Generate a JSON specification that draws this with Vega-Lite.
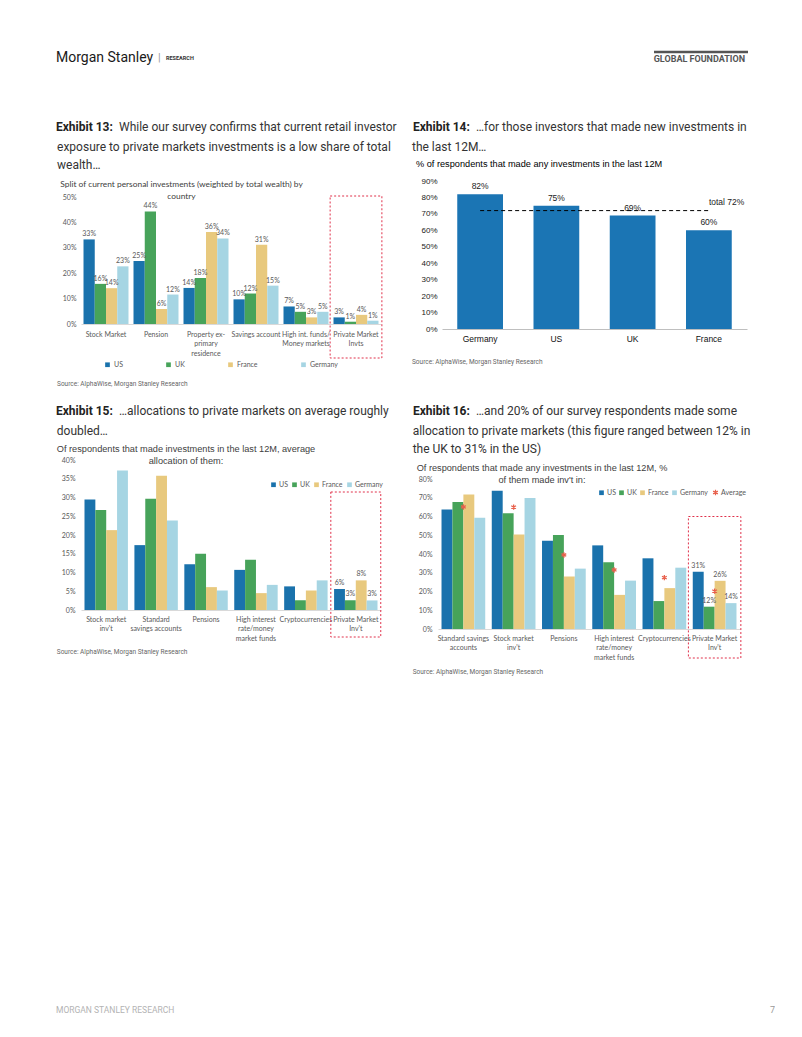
{
  "$schema": "https://vega.github.io/schema/vega-lite/v6.json",
  "background": "white",
  "padding": {"left": 56, "top": 48, "right": 0, "bottom": 0},
  "spacing": 15,
  "config": {
    "view": {"stroke": null},
    "font": "Lato",
    "title": {"fontWeight": "normal"},
    "axis": {"ticks": false, "grid": false, "title": null, "labelFont": "Lato", "labelFontSize": 7, "labelColor": "#595959", "domainColor": "#d9d9d9", "labelOverlap": false},
    "axisY": {"domain": false},
    "axisX": {"labelAngle": 0},
    "legend": {"labelFont": "Lato", "labelFontSize": 7, "labelColor": "#595959", "symbolType": "square", "padding": 0, "labelOffset": 3}
  },
  "resolve": {"scale": {"color": "independent", "shape": "independent", "x": "independent", "y": "independent", "xOffset": "independent"}, "legend": {"color": "independent", "shape": "independent"}},
  "vconcat": [
    {
      "spacing": 0,
      "hconcat": [
        {
          "width": 571, "height": 58,
          "layer": [
            {"data": {"values": [{"t": "Morgan Stanley"}]}, "mark": {"type": "text", "align": "left", "baseline": "middle", "font": "Roboto", "fontSize": 14, "color": "#1a1a1a", "dx": -25}, "encoding": {"x": {"value": 0}, "y": {"value": 10}, "text": {"field": "t"}}},
            {"data": {"values": [{"t": "|"}]}, "mark": {"type": "text", "align": "left", "baseline": "middle", "font": "Roboto", "fontSize": 11, "color": "#999999", "dx": 77}, "encoding": {"x": {"value": 0}, "y": {"value": 10}, "text": {"field": "t"}}},
            {"data": {"values": [{"t": "RESEARCH"}]}, "mark": {"type": "text", "align": "left", "baseline": "middle", "font": "Roboto", "fontSize": 5.5, "fontWeight": "bold", "color": "#333333", "dx": 85}, "encoding": {"x": {"value": 0}, "y": {"value": 10}, "text": {"field": "t"}}}
          ]
        },
        {
          "width": 94, "height": 58,
          "layer": [
            {"data": {"values": [{"t": "rule"}]}, "mark": {"type": "rule", "color": "#555555", "strokeWidth": 2.5}, "encoding": {"x": {"value": 0}, "x2": {"value": "width"}, "y": {"value": 4}}},
            {"data": {"values": [{"t": "GLOBAL FOUNDATION"}]}, "mark": {"type": "text", "align": "right", "baseline": "middle", "font": "Roboto", "fontSize": 9, "fontWeight": "bold", "color": "#555555", "dx": -3}, "encoding": {"x": {"value": "width"}, "y": {"value": 11}, "text": {"field": "t"}}}
          ]
        }
      ]
    },
    {
      "spacing": 17,
      "resolve": {"scale": {"color": "independent", "shape": "independent", "x": "independent", "y": "independent", "xOffset": "independent"}, "legend": {"color": "independent", "shape": "independent"}},
      "vconcat": [
        {
          "spacing": 14,
          "align": "none",
          "resolve": {"scale": {"color": "independent", "shape": "independent", "x": "independent", "y": "independent", "xOffset": "independent"}, "legend": {"color": "independent", "shape": "independent"}},
          "hconcat": [
            {
              "spacing": 7,
              "resolve": {"scale": {"color": "independent", "x": "independent", "y": "independent", "xOffset": "independent"}, "legend": {"color": "independent"}},
              "vconcat": [
                {
                  "width": 1, "height": 12,
                  "layer": [
                    {"data": {"values": [{"t": "Exhibit 13:"}]}, "mark": {"type": "text", "align": "left", "baseline": "middle", "font": "Roboto", "fontSize": 12, "fontWeight": "bold", "color": "#222222", "dx": -25}, "encoding": {"x": {"value": 0}, "y": {"value": 6}, "text": {"field": "t"}}},
                    {"data": {"values": [{"t": "While our survey confirms that current retail investor"}]}, "mark": {"type": "text", "align": "left", "baseline": "middle", "font": "Roboto", "fontSize": 12, "color": "#333333", "dx": 38}, "encoding": {"x": {"value": 0}, "y": {"value": 6}, "text": {"field": "t"}}}
                  ]
                },
                {
                  "title": {"text": ["exposure to private markets investments is a low share of total", "wealth…"], "anchor": "start", "frame": "bounds", "font": "Roboto", "fontSize": 12, "color": "#333333", "lineHeight": 18, "offset": 8, "dx": 0},
                  "resolve": {"scale": {"color": "independent"}, "legend": {"color": "independent"}},
                  "vconcat": [
                    {
                      "title": {"text": "Source: AlphaWise, Morgan Stanley Research", "orient": "bottom", "anchor": "start", "frame": "bounds", "font": "Roboto", "fontSize": 6.5, "color": "#666666", "offset": 13, "dx": -3},
                      "resolve": {"scale": {"color": "independent"}, "legend": {"color": "independent"}},
                      "vconcat": [
                        {
                          "width": 300, "height": 127,
                          "title": {"text": ["Split of current personal investments (weighted by total wealth) by", "country"], "font": "Lato", "fontSize": 8.4, "color": "#404040", "anchor": "middle", "dx": -49.5, "offset": -7, "lineHeight": 12},
                          "data": {"values": [
                            {"category": "Stock Market", "country": "US", "value": 0.333},
                            {"category": "Stock Market", "country": "UK", "value": 0.158},
                            {"category": "Stock Market", "country": "France", "value": 0.141},
                            {"category": "Stock Market", "country": "Germany", "value": 0.227},
                            {"category": "Pension", "country": "US", "value": 0.248},
                            {"category": "Pension", "country": "UK", "value": 0.443},
                            {"category": "Pension", "country": "France", "value": 0.059},
                            {"category": "Pension", "country": "Germany", "value": 0.116},
                            {"category": "Property ex-primary residence", "country": "US", "value": 0.142},
                            {"category": "Property ex-primary residence", "country": "UK", "value": 0.181},
                            {"category": "Property ex-primary residence", "country": "France", "value": 0.362},
                            {"category": "Property ex-primary residence", "country": "Germany", "value": 0.337},
                            {"category": "Savings account", "country": "US", "value": 0.097},
                            {"category": "Savings account", "country": "UK", "value": 0.12},
                            {"category": "Savings account", "country": "France", "value": 0.312},
                            {"category": "Savings account", "country": "Germany", "value": 0.151},
                            {"category": "High int. funds/Money markets", "country": "US", "value": 0.069},
                            {"category": "High int. funds/Money markets", "country": "UK", "value": 0.048},
                            {"category": "High int. funds/Money markets", "country": "France", "value": 0.026},
                            {"category": "High int. funds/Money markets", "country": "Germany", "value": 0.048},
                            {"category": "Private Market Invts", "country": "US", "value": 0.026},
                            {"category": "Private Market Invts", "country": "UK", "value": 0.009},
                            {"category": "Private Market Invts", "country": "France", "value": 0.036},
                            {"category": "Private Market Invts", "country": "Germany", "value": 0.013}
                          ]},
                          "encoding": {
                            "x": {"field": "category", "type": "nominal", "scale": {"domain": ["Stock Market", "Pension", "Property ex-primary residence", "Savings account", "High int. funds/Money markets", "Private Market Invts"], "paddingInner": 0.1, "paddingOuter": 0.05},
                              "axis": {"labelPadding": 6, "labelLineHeight": 9.5, "labelExpr": "datum.value == 'Property ex-primary residence' ? ['Property ex-', 'primary', 'residence'] : datum.value == 'High int. funds/Money markets' ? ['High int. funds/', 'Money markets'] : datum.value == 'Private Market Invts' ? ['Private Market', 'Invts'] : datum.value"}},
                            "y": {"field": "value", "type": "quantitative", "scale": {"domain": [0, 0.5]}, "axis": {"format": ".0%", "values": [0, 0.1, 0.2, 0.3, 0.4, 0.5], "labelPadding": 5, "labelOverlap": false}}
                          },
                          "layer": [
                            {
                              "mark": {"type": "bar"},
                              "encoding": {
                                "xOffset": {"field": "country", "type": "nominal", "scale": {"domain": ["US", "UK", "France", "Germany"], "paddingInner": 0}},
                                "color": {"field": "country", "type": "nominal", "scale": {"domain": ["US", "UK", "France", "Germany"], "range": ["#1a72ac", "#47a35a", "#e8c97e", "#a6d5e3"]},
                                  "legend": {"title": null, "orient": "none", "direction": "horizontal", "legendX": 23, "legendY": 164, "symbolSize": 22, "columnPadding": 42}}
                              }
                            },
                            {
                              "mark": {"type": "text", "dy": -5, "fontSize": 7, "color": "#595959", "font": "Lato"},
                              "encoding": {
                                "xOffset": {"field": "country", "type": "nominal"},
                                "text": {"field": "value", "type": "quantitative", "format": ".0%"}
                              }
                            },
                            {
                              "data": {"values": [{"category": "Private Market Invts"}]},
                              "mark": {"type": "bar", "width": {"band": 1.15}, "fill": "transparent", "stroke": "#e0304a", "strokeDash": [2, 2], "strokeWidth": 1, "clip": false, "yOffset": -1, "y2Offset": 34},
                              "encoding": {"y": {"value": 0}, "y2": {"value": "height"}}
                            }
                          ]
                        }
                      ]
                    }
                  ]
                }
              ]
            },
            {
              "spacing": 7,
              "resolve": {"scale": {"color": "independent", "x": "independent", "y": "independent"}, "legend": {"color": "independent"}},
              "vconcat": [
                {
                  "width": 1, "height": 12,
                  "layer": [
                    {"data": {"values": [{"t": "Exhibit 14:"}]}, "mark": {"type": "text", "align": "left", "baseline": "middle", "font": "Roboto", "fontSize": 12, "fontWeight": "bold", "color": "#222222", "dx": -29}, "encoding": {"x": {"value": 0}, "y": {"value": 6}, "text": {"field": "t"}}},
                    {"data": {"values": [{"t": "…for those investors that made new investments in"}]}, "mark": {"type": "text", "align": "left", "baseline": "middle", "font": "Roboto", "fontSize": 12, "color": "#333333", "dx": 34}, "encoding": {"x": {"value": 0}, "y": {"value": 6}, "text": {"field": "t"}}}
                  ]
                },
                {
                  "title": {"text": "the last 12M…", "anchor": "start", "frame": "bounds", "font": "Roboto", "fontSize": 12, "color": "#333333", "lineHeight": 18, "offset": 6, "dx": 0},
                  "vconcat": [
                    {
                      "title": {"text": "Source: AlphaWise, Morgan Stanley Research", "orient": "bottom", "anchor": "start", "frame": "bounds", "font": "Roboto", "fontSize": 6.5, "color": "#666666", "offset": 16, "dx": -4},
                      "vconcat": [
                        {
                          "width": 305, "height": 148,
                          "title": {"text": "% of respondents that made any investments in the last 12M", "font": "Liberation Sans", "fontSize": 9.2, "color": "#000000", "anchor": "start", "frame": "bounds", "dx": -5, "offset": 8},
                          "data": {"values": [
                            {"country": "Germany", "value": 0.82, "total": 0.72},
                            {"country": "US", "value": 0.75, "total": 0.72},
                            {"country": "UK", "value": 0.69, "total": 0.72},
                            {"country": "France", "value": 0.60, "total": 0.72}
                          ]},
                          "layer": [
                            {
                              "mark": {"type": "bar", "color": "#1b75b4"},
                              "encoding": {
                                "x": {"field": "country", "type": "nominal", "scale": {"domain": ["Germany", "US", "UK", "France"], "paddingInner": 0.4, "paddingOuter": 0.2}, "axis": {"labelFont": "Liberation Sans", "labelFontSize": 8.5, "labelColor": "#111111", "labelPadding": 5, "domainColor": "#bfbfbf"}},
                                "y": {"field": "value", "type": "quantitative", "scale": {"domain": [0, 0.9]}, "axis": {"format": ".0%", "values": [0, 0.1, 0.2, 0.3, 0.4, 0.5, 0.6, 0.7, 0.8, 0.9], "labelFont": "Liberation Sans", "labelFontSize": 8, "labelColor": "#222222", "labelPadding": 5, "labelOverlap": false}}
                              }
                            },
                            {
                              "mark": {"type": "text", "dy": -8, "font": "Liberation Sans", "fontSize": 8.5, "color": "#222222"},
                              "encoding": {
                                "x": {"field": "country", "type": "nominal", "axis": {"labelFont": "Liberation Sans", "labelFontSize": 8.5, "labelColor": "#111111", "labelPadding": 5, "domainColor": "#bfbfbf"}},
                                "y": {"field": "value", "type": "quantitative", "axis": {"format": ".0%", "values": [0, 0.1, 0.2, 0.3, 0.4, 0.5, 0.6, 0.7, 0.8, 0.9], "labelFont": "Liberation Sans", "labelFontSize": 8, "labelColor": "#222222", "labelPadding": 5, "labelOverlap": false}},
                                "text": {"field": "value", "type": "quantitative", "format": ".0%"}
                              }
                            },
                            {
                              "mark": {"type": "line", "color": "#000000", "strokeWidth": 1, "strokeDash": [4, 3]},
                              "encoding": {
                                "x": {"field": "country", "type": "nominal", "axis": {"labelFont": "Liberation Sans", "labelFontSize": 8.5, "labelColor": "#111111", "labelPadding": 5, "domainColor": "#bfbfbf"}},
                                "y": {"field": "total", "type": "quantitative", "axis": {"format": ".0%", "values": [0, 0.1, 0.2, 0.3, 0.4, 0.5, 0.6, 0.7, 0.8, 0.9], "labelFont": "Liberation Sans", "labelFontSize": 8, "labelColor": "#222222", "labelPadding": 5, "labelOverlap": false}}
                              }
                            },
                            {
                              "data": {"values": [{"country": "France", "total": 0.72, "label": "total 72%"}]},
                              "mark": {"type": "text", "align": "left", "dy": -9, "font": "Liberation Sans", "fontSize": 8.5, "color": "#222222"},
                              "encoding": {
                                "x": {"field": "country", "type": "nominal", "axis": {"labelFont": "Liberation Sans", "labelFontSize": 8.5, "labelColor": "#111111", "labelPadding": 5, "domainColor": "#bfbfbf"}},
                                "y": {"field": "total", "type": "quantitative", "axis": {"format": ".0%", "values": [0, 0.1, 0.2, 0.3, 0.4, 0.5, 0.6, 0.7, 0.8, 0.9], "labelFont": "Liberation Sans", "labelFontSize": 8, "labelColor": "#222222", "labelPadding": 5, "labelOverlap": false}},
                                "text": {"field": "label"}
                              }
                            }
                          ]
                        }
                      ]
                    }
                  ]
                }
              ]
            }
          ]
        },
        {
          "spacing": 23,
          "align": "none",
          "resolve": {"scale": {"color": "independent", "shape": "independent", "x": "independent", "y": "independent", "xOffset": "independent"}, "legend": {"color": "independent", "shape": "independent"}},
          "hconcat": [
            {
              "spacing": 7,
              "resolve": {"scale": {"color": "independent", "x": "independent", "y": "independent", "xOffset": "independent"}, "legend": {"color": "independent"}},
              "vconcat": [
                {
                  "width": 1, "height": 12,
                  "layer": [
                    {"data": {"values": [{"t": "Exhibit 15:"}]}, "mark": {"type": "text", "align": "left", "baseline": "middle", "font": "Roboto", "fontSize": 12, "fontWeight": "bold", "color": "#222222", "dx": -25}, "encoding": {"x": {"value": 0}, "y": {"value": 6}, "text": {"field": "t"}}},
                    {"data": {"values": [{"t": "…allocations to private markets on average roughly"}]}, "mark": {"type": "text", "align": "left", "baseline": "middle", "font": "Roboto", "fontSize": 12, "color": "#333333", "dx": 38}, "encoding": {"x": {"value": 0}, "y": {"value": 6}, "text": {"field": "t"}}}
                  ]
                },
                {
                  "title": {"text": "doubled…", "anchor": "start", "frame": "bounds", "font": "Roboto", "fontSize": 12, "color": "#333333", "lineHeight": 18, "offset": 7, "dx": 0},
                  "resolve": {"scale": {"color": "independent"}, "legend": {"color": "independent"}},
                  "vconcat": [
                    {
                      "title": {"text": "Source: AlphaWise, Morgan Stanley Research", "orient": "bottom", "anchor": "start", "frame": "bounds", "font": "Roboto", "fontSize": 6.5, "color": "#666666", "offset": 8, "dx": 0},
                      "resolve": {"scale": {"color": "independent"}, "legend": {"color": "independent"}},
                      "vconcat": [
                        {
                          "width": 300, "height": 150,
                          "title": {"text": ["Of respondents that made investments in the last 12M, average", "allocation of them:"], "font": "Liberation Sans", "fontSize": 9.2, "color": "#404040", "anchor": "middle", "dx": -45, "offset": -10, "lineHeight": 12},
                          "data": {"values": [
                            {"category": "Stock market inv't", "country": "US", "value": 0.295},
                            {"category": "Stock market inv't", "country": "UK", "value": 0.267},
                            {"category": "Stock market inv't", "country": "France", "value": 0.213},
                            {"category": "Stock market inv't", "country": "Germany", "value": 0.372},
                            {"category": "Standard savings accounts", "country": "US", "value": 0.173},
                            {"category": "Standard savings accounts", "country": "UK", "value": 0.297},
                            {"category": "Standard savings accounts", "country": "France", "value": 0.358},
                            {"category": "Standard savings accounts", "country": "Germany", "value": 0.239},
                            {"category": "Pensions", "country": "US", "value": 0.122},
                            {"category": "Pensions", "country": "UK", "value": 0.150},
                            {"category": "Pensions", "country": "France", "value": 0.061},
                            {"category": "Pensions", "country": "Germany", "value": 0.052},
                            {"category": "High interest rate/money market funds", "country": "US", "value": 0.107},
                            {"category": "High interest rate/money market funds", "country": "UK", "value": 0.134},
                            {"category": "High interest rate/money market funds", "country": "France", "value": 0.045},
                            {"category": "High interest rate/money market funds", "country": "Germany", "value": 0.067},
                            {"category": "Cryptocurrencies", "country": "US", "value": 0.063},
                            {"category": "Cryptocurrencies", "country": "UK", "value": 0.026},
                            {"category": "Cryptocurrencies", "country": "France", "value": 0.052},
                            {"category": "Cryptocurrencies", "country": "Germany", "value": 0.079},
                            {"category": "Private Market Inv't", "country": "US", "value": 0.056},
                            {"category": "Private Market Inv't", "country": "UK", "value": 0.026},
                            {"category": "Private Market Inv't", "country": "France", "value": 0.079},
                            {"category": "Private Market Inv't", "country": "Germany", "value": 0.0255}
                          ]},
                          "encoding": {
                            "x": {"field": "category", "type": "nominal", "scale": {"domain": ["Stock market inv't", "Standard savings accounts", "Pensions", "High interest rate/money market funds", "Cryptocurrencies", "Private Market Inv't"], "paddingInner": 0.13, "paddingOuter": 0.07},
                              "axis": {"labelPadding": 5, "labelLineHeight": 9.5, "labelExpr": "datum.value == \"Stock market inv't\" ? ['Stock market', \"inv't\"] : datum.value == 'Standard savings accounts' ? ['Standard', 'savings accounts'] : datum.value == 'High interest rate/money market funds' ? ['High interest', 'rate/money', 'market funds'] : datum.value == \"Private Market Inv't\" ? ['Private Market', \"Inv't\"] : datum.value"}},
                            "y": {"field": "value", "type": "quantitative", "scale": {"domain": [0, 0.4]}, "axis": {"format": ".0%", "values": [0, 0.05, 0.1, 0.15, 0.2, 0.25, 0.3, 0.35, 0.4], "labelPadding": 6, "labelOverlap": false}}
                          },
                          "layer": [
                            {
                              "mark": {"type": "bar"},
                              "encoding": {
                                "xOffset": {"field": "country", "type": "nominal", "scale": {"domain": ["US", "UK", "France", "Germany"], "paddingInner": 0}},
                                "color": {"field": "country", "type": "nominal", "scale": {"domain": ["US", "UK", "France", "Germany"], "range": ["#1a72ac", "#47a35a", "#e8c97e", "#a6d5e3"]},
                                  "legend": {"title": null, "orient": "none", "direction": "horizontal", "legendX": 189, "legendY": 21, "symbolSize": 22, "columnPadding": 3, "labelOffset": 2}}
                              }
                            },
                            {
                              "transform": [{"filter": {"field": "category", "equal": "Private Market Inv't"}}],
                              "mark": {"type": "text", "dy": -6, "fontSize": 7, "color": "#595959", "font": "Lato"},
                              "encoding": {
                                "xOffset": {"field": "country", "type": "nominal"},
                                "text": {"field": "value", "type": "quantitative", "format": ".0%"}
                              }
                            },
                            {
                              "data": {"values": [{"category": "Private Market Inv't"}]},
                              "mark": {"type": "bar", "width": {"band": 1.15}, "fill": "transparent", "stroke": "#e0304a", "strokeDash": [2, 2], "strokeWidth": 1, "clip": false, "yOffset": 32, "y2Offset": 27},
                              "encoding": {"y": {"value": 0}, "y2": {"value": "height"}}
                            }
                          ]
                        }
                      ]
                    }
                  ]
                }
              ]
            },
            {
              "spacing": 7,
              "resolve": {"scale": {"color": "independent", "shape": "independent", "x": "independent", "y": "independent", "xOffset": "independent"}, "legend": {"color": "independent", "shape": "independent"}},
              "vconcat": [
                {
                  "width": 1, "height": 12,
                  "layer": [
                    {"data": {"values": [{"t": "Exhibit 16:"}]}, "mark": {"type": "text", "align": "left", "baseline": "middle", "font": "Roboto", "fontSize": 12, "fontWeight": "bold", "color": "#222222", "dx": -25}, "encoding": {"x": {"value": 0}, "y": {"value": 6}, "text": {"field": "t"}}},
                    {"data": {"values": [{"t": "…and 20% of our survey respondents made some"}]}, "mark": {"type": "text", "align": "left", "baseline": "middle", "font": "Roboto", "fontSize": 12, "color": "#333333", "dx": 38}, "encoding": {"x": {"value": 0}, "y": {"value": 6}, "text": {"field": "t"}}}
                  ]
                },
                {
                  "title": {"text": ["allocation to private markets (this figure ranged between 12% in", "the UK to 31% in the US)"], "anchor": "start", "frame": "bounds", "font": "Roboto", "fontSize": 12, "color": "#333333", "lineHeight": 18, "offset": 8, "dx": 0},
                  "resolve": {"scale": {"color": "independent", "shape": "independent"}, "legend": {"color": "independent", "shape": "independent"}},
                  "vconcat": [
                    {
                      "title": {"text": "Source: AlphaWise, Morgan Stanley Research", "orient": "bottom", "anchor": "start", "frame": "bounds", "font": "Roboto", "fontSize": 6.5, "color": "#666666", "offset": 9, "dx": -4},
                      "resolve": {"scale": {"color": "independent", "shape": "independent"}, "legend": {"color": "independent", "shape": "independent"}},
                      "vconcat": [
                        {
                          "width": 302, "height": 150,
                          "title": {"text": ["Of respondents that made any investments in the last 12M, %", "of them made inv't in:"], "font": "Liberation Sans", "fontSize": 9.2, "color": "#404040", "anchor": "middle", "dx": -47, "offset": -10, "lineHeight": 12},
                          "data": {"values": [
                            {"category": "Standard savings accounts", "country": "US", "value": 0.637},
                            {"category": "Standard savings accounts", "country": "UK", "value": 0.678},
                            {"category": "Standard savings accounts", "country": "France", "value": 0.717},
                            {"category": "Standard savings accounts", "country": "Germany", "value": 0.593},
                            {"category": "Standard savings accounts", "country": "Average", "value": 0.651},
                            {"category": "Stock market inv't", "country": "US", "value": 0.738},
                            {"category": "Stock market inv't", "country": "UK", "value": 0.618},
                            {"category": "Stock market inv't", "country": "France", "value": 0.504},
                            {"category": "Stock market inv't", "country": "Germany", "value": 0.699},
                            {"category": "Stock market inv't", "country": "Average", "value": 0.65},
                            {"category": "Pensions", "country": "US", "value": 0.471},
                            {"category": "Pensions", "country": "UK", "value": 0.501},
                            {"category": "Pensions", "country": "France", "value": 0.28},
                            {"category": "Pensions", "country": "Germany", "value": 0.322},
                            {"category": "Pensions", "country": "Average", "value": 0.395},
                            {"category": "High interest rate/money market funds", "country": "US", "value": 0.446},
                            {"category": "High interest rate/money market funds", "country": "UK", "value": 0.356},
                            {"category": "High interest rate/money market funds", "country": "France", "value": 0.182},
                            {"category": "High interest rate/money market funds", "country": "Germany", "value": 0.258},
                            {"category": "High interest rate/money market funds", "country": "Average", "value": 0.315},
                            {"category": "Cryptocurrencies", "country": "US", "value": 0.377},
                            {"category": "Cryptocurrencies", "country": "UK", "value": 0.149},
                            {"category": "Cryptocurrencies", "country": "France", "value": 0.218},
                            {"category": "Cryptocurrencies", "country": "Germany", "value": 0.327},
                            {"category": "Cryptocurrencies", "country": "Average", "value": 0.274},
                            {"category": "Private Market Inv't", "country": "US", "value": 0.306},
                            {"category": "Private Market Inv't", "country": "UK", "value": 0.119},
                            {"category": "Private Market Inv't", "country": "France", "value": 0.257},
                            {"category": "Private Market Inv't", "country": "Germany", "value": 0.138},
                            {"category": "Private Market Inv't", "country": "Average", "value": 0.202}
                          ]},
                          "encoding": {
                            "x": {"field": "category", "type": "nominal", "scale": {"domain": ["Standard savings accounts", "Stock market inv't", "Pensions", "High interest rate/money market funds", "Cryptocurrencies", "Private Market Inv't"], "paddingInner": 0.13, "paddingOuter": 0.07},
                              "axis": {"labelPadding": 5, "labelLineHeight": 9.5, "labelExpr": "datum.value == 'Standard savings accounts' ? ['Standard savings', 'accounts'] : datum.value == \"Stock market inv't\" ? ['Stock market', \"inv't\"] : datum.value == 'High interest rate/money market funds' ? ['High interest', 'rate/money', 'market funds'] : datum.value == \"Private Market Inv't\" ? ['Private Market', \"Inv't\"] : datum.value"}},
                            "y": {"field": "value", "type": "quantitative", "scale": {"domain": [0, 0.8]}, "axis": {"format": ".0%", "values": [0, 0.1, 0.2, 0.3, 0.4, 0.5, 0.6, 0.7, 0.8], "labelPadding": 6, "labelOverlap": false}}
                          },
                          "layer": [
                            {
                              "transform": [{"filter": {"not": {"field": "country", "equal": "Average"}}}],
                              "mark": {"type": "bar"},
                              "encoding": {
                                "xOffset": {"field": "country", "type": "nominal", "scale": {"domain": ["US", "UK", "France", "Germany"], "paddingInner": 0}},
                                "color": {"field": "country", "type": "nominal", "scale": {"domain": ["US", "UK", "France", "Germany"], "range": ["#1a72ac", "#47a35a", "#e8c97e", "#a6d5e3"]},
                                  "legend": {"title": null, "orient": "none", "direction": "horizontal", "legendX": 160, "legendY": 10, "symbolSize": 22, "columnPadding": 2, "labelOffset": 2}}
                              }
                            },
                            {
                              "transform": [{"filter": {"field": "country", "equal": "Average"}}],
                              "mark": {"type": "point", "filled": false, "strokeWidth": 1.3, "size": 30, "opacity": 1, "color": "#e8604c"},
                              "encoding": {
                                "shape": {"field": "country", "type": "nominal", "scale": {"domain": ["Average"], "range": ["M0,-1L0,1M-0.87,-0.5L0.87,0.5M-0.87,0.5L0.87,-0.5"]},
                                  "legend": {"title": null, "orient": "none", "legendX": 274, "legendY": 10, "symbolSize": 30, "symbolStrokeColor": "#e8604c", "symbolStrokeWidth": 1.2, "symbolFillColor": "transparent", "labelOffset": 2}}
                              }
                            },
                            {
                              "transform": [{"filter": {"field": "category", "equal": "Private Market Inv't"}}, {"filter": {"not": {"field": "country", "equal": "Average"}}}],
                              "mark": {"type": "text", "dy": -6, "fontSize": 7, "color": "#595959", "font": "Lato"},
                              "encoding": {
                                "xOffset": {"field": "country", "type": "nominal"},
                                "text": {"field": "value", "type": "quantitative", "format": ".0%"}
                              }
                            },
                            {
                              "data": {"values": [{"category": "Private Market Inv't", "value": 0.6}]},
                              "mark": {"type": "bar", "width": {"band": 1.2}, "fill": "transparent", "stroke": "#e0304a", "strokeDash": [2, 2], "strokeWidth": 1, "clip": false, "y2Offset": 29},
                              "encoding": {"y2": {"value": "height"}}
                            }
                          ]
                        }
                      ]
                    }
                  ]
                }
              ]
            }
          ]
        }
      ]
    },
    {
      "width": 694, "height": 319,
      "layer": [
        {"data": {"values": [{"t": "MORGAN STANLEY RESEARCH"}]}, "mark": {"type": "text", "align": "left", "baseline": "middle", "font": "Roboto", "fontSize": 8.5, "color": "#b3b3b3", "dx": -25}, "encoding": {"x": {"value": 0}, "y": {"value": "height"}, "text": {"field": "t"}}},
        {"data": {"values": [{"t": "7"}]}, "mark": {"type": "text", "align": "right", "baseline": "middle", "font": "Roboto", "fontSize": 9, "color": "#999999"}, "encoding": {"x": {"value": "width"}, "y": {"value": "height"}, "text": {"field": "t"}}}
      ]
    }
  ]
}
